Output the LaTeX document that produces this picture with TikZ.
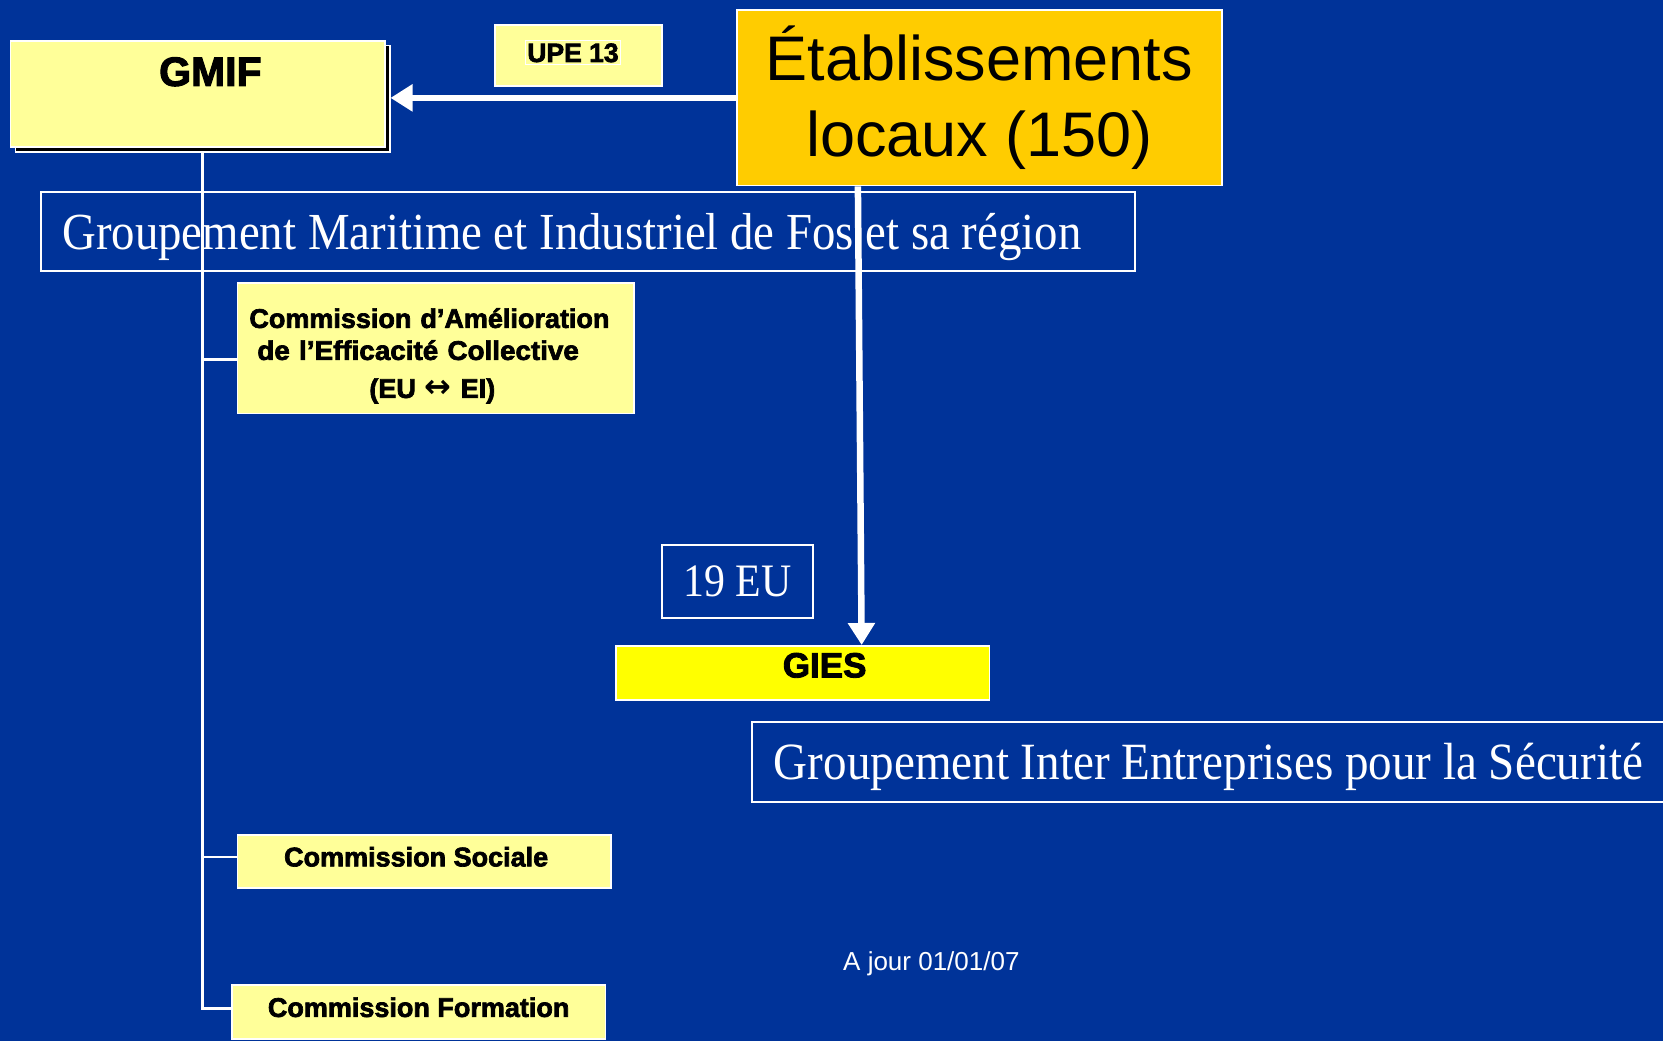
\documentclass[tikz,border=0pt]{standalone}
\usepackage{fontspec}
\setmainfont{Liberation Serif}
\setsansfont{Liberation Sans}
\newfontfamily\gser{Liberation Serif}
\newfontfamily\hsans[FakeBold=2.5]{Liberation Sans Bold}
\newfontfamily\asans{Liberation Sans}
\newfontfamily\dsans{DejaVu Sans Bold}
\usetikzlibrary{arrows.meta}
\definecolor{bg}{HTML}{003399}
\definecolor{lyel}{HTML}{FFFF99}
\definecolor{gold}{HTML}{FFCC00}
\definecolor{yel}{HTML}{FFFF00}
\newcommand{\narrowtxt}[1]{\scalebox{0.9}[1]{#1}}
\begin{document}
\begin{tikzpicture}[x=1pt,y=-1pt,
  box/.style={draw=white, line width=1.8pt, inner sep=0pt, anchor=north west},
  ybox/.style={box, fill=lyel},
  outl/.style={box, text=white},
  conn/.style={draw=white, line width=2.5pt},
  bigarrow/.style={draw=white, line width=6.5pt, -{Triangle[length=22pt,width=26pt]}},
  cfont/.style={font=\hsans\fontsize{27}{32}\selectfont}]
\path[clip] (0,0) rectangle (1663,1041);
\fill[bg] (0,0) rectangle (1663,1041);

% GMIF with shadow
\node[draw=white, fill=black, line width=1.5pt, inner sep=0pt, anchor=north west,
  minimum width=374.5pt, minimum height=106pt] (gmifsh) at (14.5,45) {};
\node[ybox, minimum width=374.5pt, minimum height=106pt, text height=29pt, text depth=45pt,
  inner ysep=16pt, font=\hsans\fontsize{41}{49}\selectfont] (gmif) at (9.5,40) {\hspace*{25.5pt}GMIF};

% UPE 13
\node[ybox, minimum width=167pt, minimum height=61pt] (upe) at (494,24) {};
\node[draw=white, line width=1pt, inner xsep=1.5pt, inner ysep=2.5pt, anchor=base,
  font=\hsans\fontsize{26.5}{30}\selectfont] (upet) at (573,62) {UPE 13};

% Etablissements
\node[box, fill=gold, minimum width=485pt, minimum height=175pt, align=center,
  font=\asans\fontsize{63}{76}\selectfont] (etab) at (736,9.5) {Établissements\\locaux (150)};

% Groupement Maritime
\node[outl, minimum width=1094pt, minimum height=79pt, inner xsep=21.5pt, inner ysep=0pt,
  text height=58pt, text depth=21pt,
  font=\gser\fontsize{52}{60}\selectfont] (gmfos) at (40,191)
  {\makebox[1051pt][l]{\narrowtxt{Groupement Maritime et Industriel de Fos et sa région}}};

% Commission d'Amelioration
\node[ybox, minimum width=396.5pt, minimum height=130.6pt, inner xsep=12pt, text width=372.5pt,
  text height=45pt, text depth=85.6pt, align=left, cfont] (camb) at (236.5,282)
  {Commission d’Amélioration\\[0pt]\hspace*{8pt}\scalebox{1.03}[1]{de l’Efficacité Collective}\\[6pt]\hspace*{120pt}(EU {\dsans\fontsize{32}{32}\selectfont↔} EI)};

% 19 EU
\node[outl, minimum width=151pt, minimum height=73pt, font=\gser\fontsize{46.5}{54}\selectfont] (eu) at (661,544) {\narrowtxt{19 EU}};

% GIES
\node[box, fill=yel, minimum width=373.5pt, minimum height=54pt, text height=25pt, text depth=16pt,
  inner ysep=6.5pt, font=\hsans\fontsize{35}{42}\selectfont] (gies) at (615,645) {\hspace*{44pt}GIES};

% Groupement Inter Entreprises
\node[outl, minimum width=1000pt, minimum height=80pt, inner xsep=22pt, inner ysep=0pt,
  text height=58pt, text depth=22pt,
  font=\gser\fontsize{52.3}{60}\selectfont] (gie) at (751,721)
  {\makebox[956pt][l]{\narrowtxt{Groupement Inter Entreprises pour la Sécurité}}};

% Commission Sociale / Formation
\node[ybox, minimum width=373.5pt, minimum height=53pt, text height=19.3pt, text depth=9.3pt,
  inner ysep=12.2pt, cfont] (csoc) at (236.5,834) {Commission Sociale\hspace*{16pt}};
\node[ybox, minimum width=373.5pt, minimum height=54pt, text height=19.3pt, text depth=9.3pt,
  inner ysep=12.7pt, cfont] (cform) at (231,984) {Commission Formation};

% Date
\node[anchor=base west, inner sep=0pt, text=white, font=\asans\fontsize{26}{31}\selectfont] (ajour) at (843,970) {A jour 01/01/07};

% Connectors
\coordinate (tr) at (202.6,151);
\coordinate (cambj) at ([yshift=-11.5pt]camb.west);
\coordinate (csocj) at ([yshift=4.5pt]csoc.west);
\coordinate (cformj) at ([yshift=3.4pt]cform.west);
\draw[conn] (gmifsh.south -| tr) |- (cformj);
\draw[conn] (tr |- cambj) -- (cambj);
\draw[conn] (tr |- csocj) -- (csocj);

\draw[bigarrow] (etab.west) -- (gmifsh.east |- etab.west);
\draw[bigarrow] ([xshift=-121.5pt]etab.south) -- ([xshift=59pt]gies.north);
\end{tikzpicture}
\end{document}
